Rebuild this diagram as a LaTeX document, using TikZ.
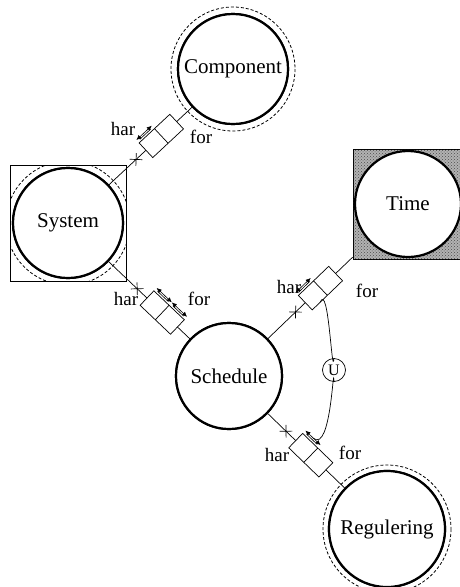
\documentclass[tikz,border=0pt]{standalone}
\usepackage{fontspec}
\setmainfont{Liberation Serif}
\usetikzlibrary{patterns,arrows.meta,calc}
\tikzset{
 ent/.style={circle, draw, line width=2.2pt, fill=white, inner sep=0pt, font=\fontsize{21}{25}\selectfont},
 aura/.style={draw, line width=0.8pt, dash pattern=on 3pt off 2pt},
 conn/.style={draw, line width=0.7pt},
 lbl/.style={font=\fontsize{19}{22}\selectfont, inner sep=0pt},
 dbl/.style={line width=0.6pt, {Latex[length=5pt,width=4.5pt]}-{Latex[length=5pt,width=4.5pt]}},
 relbox/.pic={
   \fill[white] (-21,-10) rectangle (21,10);
   \draw[line width=0.7pt] (-21,-10) rectangle (21,10) (0,-10) -- (0,10);
   \draw[dbl] (-21,-14) -- (0,-14);
   \draw[line width=0.6pt] (-18,-12.2) -- (-3,-12.2);
   \draw[line width=0.7pt] (-39,-4.5) -- (-30,4.5) (-39,4.5) -- (-30,-4.5);
   \coordinate (-lo) at (-10,10);
   \coordinate (-hi) at (-10,-14);
 },
 relboxb/.pic={
   \fill[white] (-21,-10) rectangle (21,10);
   \draw[line width=0.7pt] (-21,-10) rectangle (21,10) (0,-10) -- (0,10);
   \draw[dbl] (-21,-14) -- (0,-14);
   \draw[line width=0.6pt] (-18,-12.2) -- (-3,-12.2);
   \draw[dbl] (0,-14) -- (21,-14);
   \draw[line width=0.6pt] (3,-12.2) -- (18,-12.2);
   \draw[line width=0.7pt] (-39,-4.5) -- (-30,4.5) (-39,4.5) -- (-30,-4.5);
 }
}
\begin{document}
\begin{tikzpicture}[x=1pt,y=-1pt]
\useasboundingbox (0,0) rectangle (460,587);
\fill[white] (0,0) rectangle (460,587);
% Time (square with pattern)
\node[draw, line width=0.8pt, minimum size=110pt, inner sep=0pt, fill=gray!60,
      postaction={pattern=crosshatch dots, pattern color=black!70}] (time) at (408,204) {};
% System square
\draw[line width=0.8pt] (10,165) rectangle (126,281);
% connector end nodes
\node[ent, minimum size=110pt] (comp) at (233,69) {};
\node[ent, minimum size=110pt] (sys) at (68,223) {};
\node[ent, minimum size=106pt] (sch) at (229,376) {};
\node[ent, minimum size=116pt] (reg) at (387,529) {};
\draw[conn] (sys) -- (comp);
\draw[conn] (sys) -- (sch);
\draw[conn] (sch) -- (time);
\draw[conn] (sch) -- (reg);
% entity circles with text
\node[ent, minimum size=110pt] (compc) at (comp.center) {Component};
\node[ent, minimum size=110pt] (sysc) at (sys.center) {System};
\node[ent, minimum size=106pt] (schc) at (sch.center) {Schedule};
\node[ent, minimum size=116pt] (regc) at (reg.center) {Regulering};
\node[ent, minimum size=106pt] (timec) at (time.center) {Time};
\draw[aura] (comp.center) circle (62);
\draw[aura] (reg.center) circle (64);
\begin{scope}
\clip (10,165) rectangle (126,281);
\draw[aura] (sys.center) circle (62);
\end{scope}
% relation boxes
\path (sys) -- (comp) pic[pos=0.63, sloped] (c1) {relbox};
\path (sys) -- (sch) pic[pos=0.66, sloped] (c2) {relboxb};
\path (sch) -- (time) pic[pos=0.62, sloped] (c3) {relbox};
\path (sch) -- (reg) pic[pos=0.56, sloped] (c4) {relbox};
% union arc
\node[circle, draw, line width=0.7pt, minimum size=23pt, inner sep=0pt, fill=white,
      font=\fontsize{16}{18}\selectfont] (u) at (334,370) {U};
\draw[conn] (c3-lo) to[out=68,in=-95] (u.north);
\draw[conn] (u.south) to[out=92,in=-40] (c4-hi);
% labels
\node[lbl] (h1) at (123,129) {har}; \node[lbl] (f1) at (201,137) {for};
\node[lbl] (h2) at (126,299) {har}; \node[lbl] (f2) at (199,299) {for};
\node[lbl] (h3) at (289,287) {har}; \node[lbl] (f3) at (367,291) {for};
\node[lbl] (h4) at (277,455) {har}; \node[lbl] (f4) at (350,453) {for};
\end{tikzpicture}
\end{document}
